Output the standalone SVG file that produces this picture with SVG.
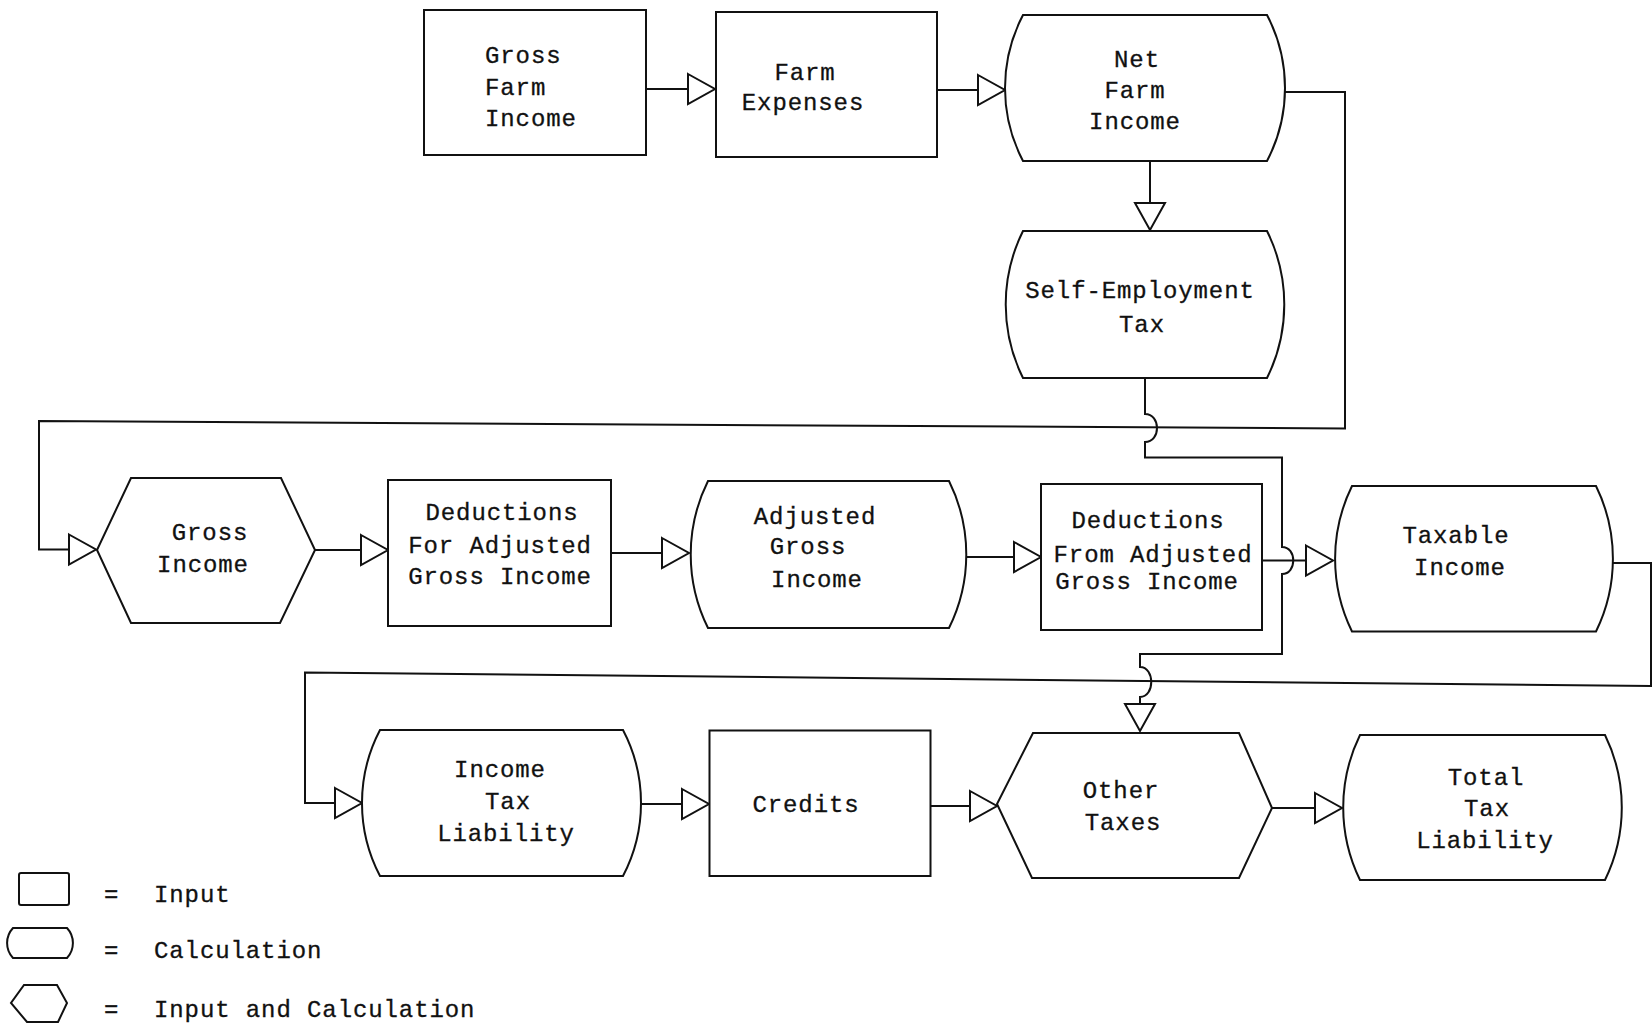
<svg xmlns="http://www.w3.org/2000/svg" width="1652" height="1030" viewBox="0 0 1652 1030">
<style>
.shape{fill:#fff;stroke:#111;stroke-width:2;stroke-linejoin:miter}
.conn{fill:none;stroke:#111;stroke-width:2;marker-end:url(#tri)}
.t{font-family:"Liberation Mono","DejaVu Sans Mono",monospace;font-size:24px;letter-spacing:0.9px;fill:#111;stroke:#111;stroke-width:0.3px;text-anchor:middle}
.ts{text-anchor:start}
</style>
<defs>
<marker id="tri" markerUnits="userSpaceOnUse" markerWidth="34" markerHeight="38" viewBox="-4 -4 34 38" refX="26" refY="15" orient="auto">
<path d="M0,0 L27,15 L0,30 Z" fill="#fff" stroke="#111" stroke-width="2"/>
</marker>
</defs>
<rect width="1652" height="1030" fill="#fff"/>

<g id="connectors">
<path class="conn" d="M646,89 H714"/>
<path class="conn" d="M937,90 H1004"/>
<path class="conn" d="M1150,161 V229"/>
<path class="conn" d="M1285,92 H1345 V428.5 L39,421 V549.5 H95"/>
<path class="conn" d="M315,550 H387"/>
<path class="conn" d="M611,553 H688"/>
<path class="conn" d="M966,557 H1040"/>
<path class="conn" d="M1262,560.5 H1332"/>
<path class="conn" d="M1145,378 V414 C1161,414 1161,442 1145,442 V457.5 H1282 V547 C1297,547 1297,574 1282,574 V654 H1140 V667 C1155,667 1155,697 1140,697 V730"/>
<path class="conn" d="M1613,563 H1651 V686 L305,672.5 V803 H361"/>
<path class="conn" d="M641,804 H708"/>
<path class="conn" d="M930.5,806 H996"/>
<path class="conn" d="M1272,808 H1341"/>
</g>

<g id="gross-farm-income">
<rect class="shape" x="424" y="10" width="222" height="145"/>
<text class="t ts" x="485" y="63">Gross</text>
<text class="t ts" x="485" y="95">Farm</text>
<text class="t ts" x="485" y="126">Income</text>
</g>

<g id="farm-expenses">
<rect class="shape" x="716" y="12" width="221" height="145"/>
<text class="t" x="805" y="80">Farm</text>
<text class="t" x="803" y="110">Expenses</text>
</g>

<g id="net-farm-income">
<path class="shape" d="M1023,15 H1267 A157,157 0 0 1 1267,161 H1023 A157,157 0 0 1 1023,15 Z"/>
<text class="t" x="1137" y="67">Net</text>
<text class="t" x="1135" y="98">Farm</text>
<text class="t" x="1135" y="129">Income</text>
</g>

<g id="self-employment-tax">
<path class="shape" d="M1023,231 H1267 A165,165 0 0 1 1267,378 H1023 A165,165 0 0 1 1023,231 Z"/>
<text class="t" x="1140" y="298">Self-Employment</text>
<text class="t" x="1142" y="332">Tax</text>
</g>

<g id="gross-income">
<polygon class="shape" points="131,478 281,478 315,550 280,623 131,623 97,550"/>
<text class="t" x="210" y="540">Gross</text>
<text class="t" x="203" y="572">Income</text>
</g>

<g id="deductions-for-agi">
<rect class="shape" x="388" y="480" width="223" height="146"/>
<text class="t" x="502" y="520">Deductions</text>
<text class="t" x="500" y="553">For Adjusted</text>
<text class="t" x="500" y="584">Gross Income</text>
</g>

<g id="adjusted-gross-income">
<path class="shape" d="M708,481 H949 A165,165 0 0 1 949,628 H708 A165,165 0 0 1 708,481 Z"/>
<text class="t" x="815" y="524">Adjusted</text>
<text class="t" x="808" y="554">Gross</text>
<text class="t" x="817" y="587">Income</text>
</g>

<g id="deductions-from-agi">
<rect class="shape" x="1041" y="484" width="221" height="146"/>
<text class="t" x="1148" y="528">Deductions</text>
<text class="t" x="1153" y="562">From Adjusted</text>
<text class="t" x="1147" y="589">Gross Income</text>
</g>

<g id="taxable-income">
<path class="shape" d="M1352,486 H1596 A165,165 0 0 1 1596,631.5 H1352 A165,165 0 0 1 1352,486 Z"/>
<text class="t" x="1456" y="543">Taxable</text>
<text class="t" x="1460" y="575">Income</text>
</g>

<g id="income-tax-liability">
<path class="shape" d="M380,730 H623 A157,157 0 0 1 623,876 H380 A157,157 0 0 1 380,730 Z"/>
<text class="t" x="500" y="777">Income</text>
<text class="t" x="508" y="809">Tax</text>
<text class="t" x="506" y="841">Liability</text>
</g>

<g id="credits">
<rect class="shape" x="709.5" y="730.5" width="221" height="145.5"/>
<text class="t" x="806" y="812">Credits</text>
</g>

<g id="other-taxes">
<polygon class="shape" points="1033,733 1239,733 1272,808 1239,878 1032,878 997,804"/>
<text class="t" x="1121" y="798">Other</text>
<text class="t" x="1123" y="830">Taxes</text>
</g>

<g id="total-tax-liability">
<path class="shape" d="M1360,735 H1605 A165,165 0 0 1 1605,880 H1360 A165,165 0 0 1 1360,735 Z"/>
<text class="t" x="1486" y="785">Total</text>
<text class="t" x="1487" y="816">Tax</text>
<text class="t" x="1485" y="848">Liability</text>
</g>

<g id="legend">
<g id="legend-input">
<rect class="shape" x="19" y="873" width="50" height="32" rx="2"/>
<text class="t ts" x="104" y="902">=</text>
<text class="t ts" x="154" y="902">Input</text>
</g>
<g id="legend-calculation">
<path class="shape" d="M13,928 H67 A22,22 0 0 1 67,958 H13 A22,22 0 0 1 13,928 Z"/>
<text class="t ts" x="104" y="958">=</text>
<text class="t ts" x="154" y="958">Calculation</text>
</g>
<g id="legend-input-calculation">
<polygon class="shape" points="24,985 57,985 67,1003 58,1022 27,1022 11,1003"/>
<text class="t ts" x="104" y="1017">=</text>
<text class="t ts" x="154" y="1017">Input and Calculation</text>
</g>
</g>
</svg>
